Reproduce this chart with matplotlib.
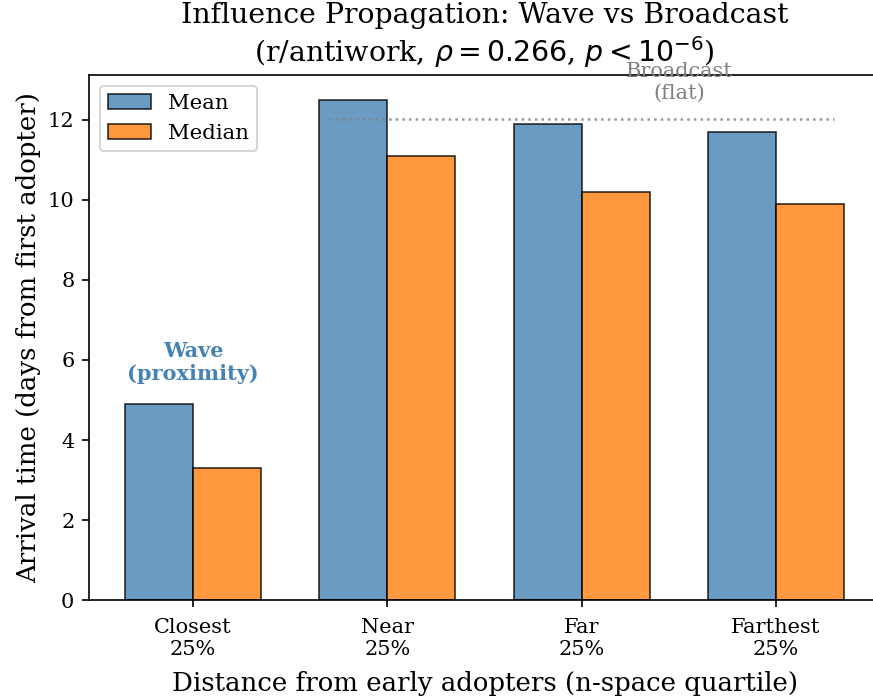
import matplotlib
matplotlib.use("Agg")
import matplotlib.pyplot as plt
import numpy as np

plt.rcParams['font.family'] = ['DejaVu Serif']

categories = ["Closest\n25%", "Near\n25%", "Far\n25%", "Farthest\n25%"]
mean_vals = [4.9, 12.5, 11.9, 11.7]
median_vals = [3.3, 11.1, 10.2, 9.9]
broadcast_level = float(np.mean(mean_vals[1:]))

fig = plt.figure(figsize=(873/150, 699/150), dpi=150)
ax = fig.add_axes([89/873, 99/699, (880-89)/873, (600-75)/699])

x = np.arange(len(categories))
w = 0.35
ax.bar(x - w/2, mean_vals, w, label="Mean", color="steelblue", alpha=0.8,
       edgecolor="black", linewidth=0.8)
ax.bar(x + w/2, median_vals, w, label="Median", color="#ff7f0e", alpha=0.8,
       edgecolor="black", linewidth=0.8)

ax.hlines(broadcast_level, 0.7, 3.3, colors="gray", linestyles=":", linewidth=1.2, alpha=0.8)
ax.text(2.5, broadcast_level + 0.4, "Broadcast\n(flat)", ha="center", va="bottom",
        fontsize=10, color="gray")
ax.text(0, mean_vals[0] + 0.5, "Wave\n(proximity)", ha="center", va="bottom",
        fontsize=10, color="steelblue", fontweight="bold")

ax.set_xticks(x)
ax.set_xticklabels(categories, fontsize=10)
ax.tick_params(axis='x', pad=5)
ax.tick_params(axis='y', labelsize=10)
ax.set_ylim(0, 12.5 * 1.05)
ax.set_xlabel("Distance from early adopters (n-space quartile)", fontsize=12.5, labelpad=6)
ax.set_ylabel("Arrival time (days from first adopter)", fontsize=12.5, labelpad=3)
ax.set_title("Influence Propagation: Wave vs Broadcast\n(r/antiwork, $\\rho = 0.266$, $p < 10^{-6}$)",
             fontsize=13.6)
ax.legend(loc="upper left", fontsize=10.2)

fig.savefig("out.png", dpi=150)
